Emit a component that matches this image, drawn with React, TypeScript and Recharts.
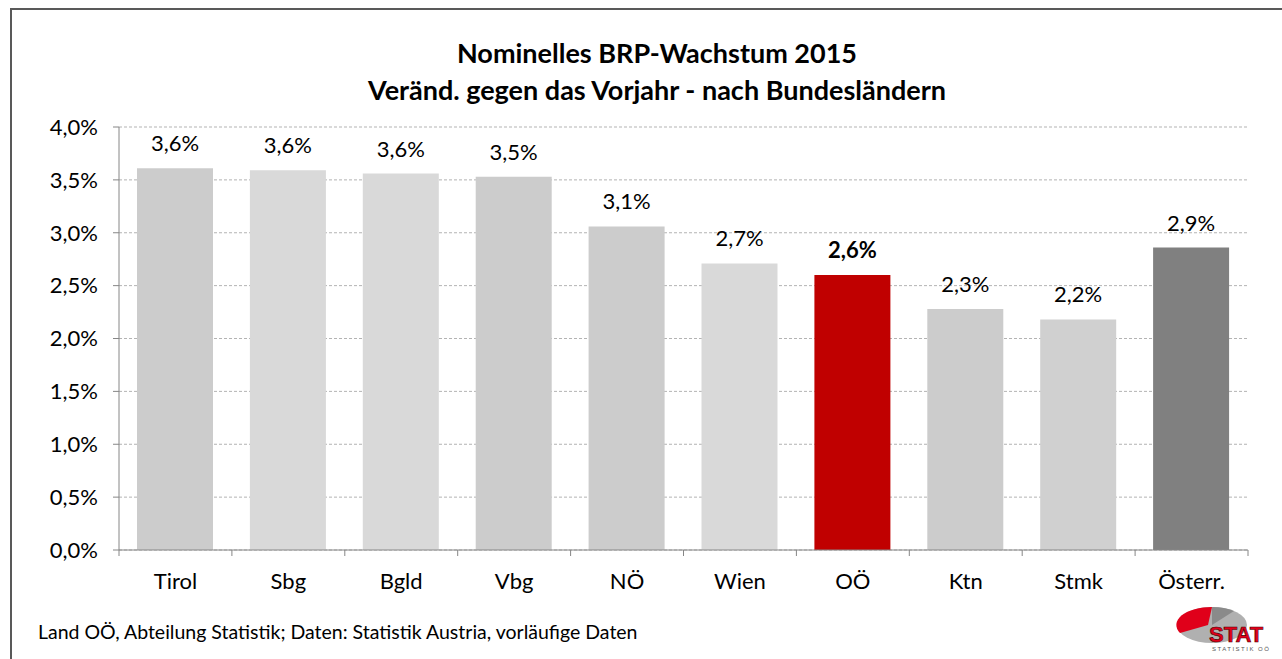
import React from "react";
import { BarChart, Bar, XAxis, YAxis, CartesianGrid, Cell, LabelList } from "recharts";

const categories = ["Tirol", "Sbg", "Bgld", "Vbg", "NÖ", "Wien", "OÖ", "Ktn", "Stmk", "Österr."];
const growth = [3.61, 3.59, 3.56, 3.53, 3.06, 2.71, 2.6, 2.28, 2.18, 2.86];
const barColors = ["#cccccc", "#d9d9d9", "#d9d9d9", "#cccccc", "#cccccc", "#d9d9d9", "#c00000", "#cccccc", "#d0d0d0", "#808080"];
const yTicks = [0, 0.5, 1, 1.5, 2, 2.5, 3, 3.5, 4];
const titleLines = ["Nominelles BRP-Wachstum 2015", "Veränd. gegen das Vorjahr - nach Bundesländern"];
const footer = "Land OÖ, Abteilung Statistik; Daten: Statistik Austria, vorläufige Daten";
const highlight = "OÖ";

const data = categories.map((c, i) => ({ name: c, value: growth[i], color: barColors[i] }));

const FONT = "Lato, 'Liberation Sans', sans-serif";
const fmt = (v: number) => v.toFixed(1).replace(".", ",") + "%";

const PLOT_LEFT = 119;
const PLOT_RIGHT = 1248;
const PLOT_TOP = 127;
const PLOT_BOTTOM = 550;
const BAND = (PLOT_RIGHT - PLOT_LEFT) / categories.length;

const XTick = (props: any) => {
  const { x, payload, index } = props;
  return (
    <g>
      <line x1={x - BAND / 2} y1={PLOT_BOTTOM} x2={x - BAND / 2} y2={PLOT_BOTTOM + 6} stroke="#868686" />
      {index === categories.length - 1 && (
        <line x1={x + BAND / 2} y1={PLOT_BOTTOM} x2={x + BAND / 2} y2={PLOT_BOTTOM + 6} stroke="#868686" />
      )}
      <text x={x} y={589} textAnchor="middle" fontSize={22} fill="#000" fontFamily={FONT}>
        {payload.value}
      </text>
    </g>
  );
};

const ValueLabel = (props: any) => {
  const { x, y, width, value, index } = props;
  const bold = categories[index] === highlight;
  return (
    <text
      x={x + width / 2}
      y={y - 17}
      textAnchor="middle"
      fontSize={22}
      fontWeight={bold ? 700 : 400}
      fill="#000"
      fontFamily={FONT}
    >
      {fmt(value)}
    </text>
  );
};

export default function App() {
  return (
    <div style={{ position: "absolute", left: 0, top: 0, width: 1282, height: 659, background: "#fff", overflow: "hidden", fontFamily: FONT }}>
      <div style={{ position: "absolute", left: 10, top: 8, width: 1300, height: 700, borderLeft: "2px solid #595959", borderTop: "2px solid #595959", boxSizing: "border-box" }} />
      <div style={{ position: "absolute", left: 0, width: 1314, top: 34, textAlign: "center", fontSize: 27, fontWeight: 700, lineHeight: "37px", color: "#000" }}>
        <div>{titleLines[0]}</div>
        <div>{titleLines[1]}</div>
      </div>
      <div style={{ position: "absolute", left: 0, top: 0 }}>
        <BarChart
          width={1282}
          height={659}
          data={data}
          margin={{ top: PLOT_TOP, right: 1282 - PLOT_RIGHT, left: PLOT_LEFT - 60, bottom: 659 - PLOT_BOTTOM - 30 }}
        >
          <CartesianGrid vertical={false} stroke="#b3b3b3" strokeDasharray="3 2" />
          <XAxis
            dataKey="name"
            height={30}
            axisLine={{ stroke: "#868686" }}
            tickLine={false}
            tick={<XTick />}
            interval={0}
          />
          <YAxis
            width={60}
            domain={[0, 4]}
            ticks={yTicks}
            tickFormatter={fmt}
            axisLine={{ stroke: "#868686" }}
            tickLine={{ stroke: "#868686" }}
            tickSize={6}
            tickMargin={15}
            tick={{ fontSize: 22, fill: "#000", fontFamily: FONT }}
            interval={0}
          />
          <Bar dataKey="value" barSize={76} isAnimationActive={false}>
            {data.map((d, i) => (
              <Cell key={i} fill={d.color} />
            ))}
            <LabelList dataKey="value" content={<ValueLabel />} />
          </Bar>
        </BarChart>
      </div>
      <div style={{ position: "absolute", left: 38, top: 620, fontSize: 19.5, color: "#000", whiteSpace: "nowrap" }}>{footer}</div>
      <svg style={{ position: "absolute", left: 1170, top: 600 }} width={112} height={59}>
        <ellipse cx={42} cy={25} rx={35} ry={18} fill="#b0b0b0" />
        <path d="M42,7 A35,18 0 0 0 10,33 L38,25 Z" fill="#e0001a" />
        <path d="M42,7 A35,18 0 0 1 64,11 L42,25 Z" fill="#8a8a8a" />
        <text x={39} y={42} fontSize={22} fontWeight={900} fill="#e0001a" stroke="#400" strokeWidth={0.6} fontFamily="'Liberation Sans', Arial, sans-serif">STAT</text>
        <text x={42} y={51} fontSize={6} fill="#555" letterSpacing={1.5} fontFamily="'Liberation Sans', Arial, sans-serif">STATISTIK OÖ</text>
      </svg>
    </div>
  );
}
